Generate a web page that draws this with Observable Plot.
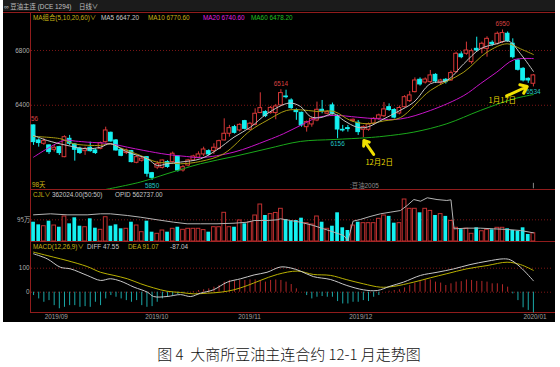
<!DOCTYPE html>
<html><head><meta charset="utf-8">
<script src="https://cdn.jsdelivr.net/npm/d3@7"></script>
<script src="https://cdn.jsdelivr.net/npm/@observablehq/plot@0.6"></script>
<style>
html,body{margin:0;padding:0;background:#fff;}
#wrap{position:relative;width:560px;height:367px;overflow:hidden;font-family:"Liberation Sans","Noto Sans CJK SC",sans-serif;}
#bg{position:absolute;left:3px;top:0;width:552px;height:322px;background:#000;}
#titlebar{position:absolute;left:3px;top:0;width:552px;height:11px;background:#1b1b1b;}
.ln{position:absolute;background:#901c1c;}
.t{position:absolute;white-space:nowrap;font-size:6.4px;line-height:7px;transform:translateY(-50%);}
.plot{position:absolute;left:0;}
#caption{position:absolute;left:0;width:578px;top:346px;text-align:center;font-family:"Noto Sans CJK SC";font-weight:300;font-size:15px;line-height:16px;color:#111;}
</style></head><body><div id="wrap">
<div id="bg"></div><div id="titlebar"></div>
<div class="ln" style="left:3px;top:12px;width:552px;height:1px"></div>
<div class="ln" style="left:30px;top:12px;width:1px;height:301px"></div>
<div class="ln" style="left:30px;top:189px;width:525px;height:1px"></div>
<div class="ln" style="left:30px;top:241px;width:525px;height:1px"></div>
<div class="ln" style="left:30px;top:312px;width:525px;height:1px"></div>
<div id="caption">图 4&nbsp; 大商所豆油主连合约 12-1 月走势图</div>
</div>
<script>
// ---------- data ----------
const openP  = [6253,6143,6119,6107,6075,6094,6021,6155,6114,6082,6065,6090,6070,6082,6131,6199,6143,6075,6051,6065,5980,5995,6021,5904,5945,5943,5985,5985,6026,5924,5960,5997,6017,6041,6065,6065,6082,6143,6192,6240,6216,6284,6221,6257,6343,6350,6343,6343,6399,6464,6435,6362,6345,6240,6260,6289,6367,6338,6399,6321,6221,6233,6284,6272,6221,6221,6265,6301,6320,6386,6365,6340,6386,6430,6496,6586,6566,6569,6622,6562,6586,6581,6642,6771,6776,6715,6812,6812,6812,6856,6849,6861,6922,6849,6727,6666,6593,6557];
const highP  = [6256,6155,6155,6110,6107,6100,6177,6180,6119,6094,6094,6131,6082,6131,6240,6204,6150,6082,6080,6070,6031,6025,6025,5910,5990,6000,5995,6058,6030,5960,6005,6035,6060,6094,6075,6119,6145,6301,6253,6253,6265,6290,6275,6374,6491,6360,6391,6406,6514,6510,6447,6374,6350,6285,6310,6423,6435,6360,6416,6330,6253,6253,6300,6289,6250,6270,6310,6335,6420,6410,6375,6395,6470,6500,6600,6600,6600,6654,6630,6590,6595,6650,6788,6790,6861,6810,6897,6861,6900,6870,6935,6950,6935,6885,6735,6675,6600,6625];
const lowP   = [6107,6094,6107,6041,6058,6034,6017,6107,5992,6041,6034,6058,6041,6075,6124,6131,6065,6024,6040,5980,5973,5985,5875,5851,5930,5935,5940,5980,5912,5912,5950,5990,6010,6026,6030,6041,6075,6140,6167,6190,6205,6220,6215,6250,6340,6310,6335,6294,6390,6447,6370,6290,6240,6204,6240,6280,6338,6330,6330,6156,6204,6204,6275,6180,6163,6210,6255,6290,6310,6355,6300,6330,6380,6420,6490,6540,6555,6560,6560,6545,6555,6575,6635,6740,6765,6700,6790,6776,6751,6830,6840,6850,6860,6739,6650,6570,6560,6534];
const closeP = [6131,6124,6138,6058,6090,6051,6167,6119,6075,6051,6082,6065,6051,6124,6216,6136,6070,6031,6070,5985,6021,6010,5900,5870,5970,5997,5950,6046,5924,5948,5997,6026,6041,6077,6041,6090,6138,6192,6233,6199,6257,6228,6265,6338,6379,6321,6381,6391,6489,6459,6379,6350,6253,6277,6301,6367,6357,6350,6338,6223,6216,6226,6294,6204,6240,6260,6301,6326,6370,6365,6310,6380,6459,6472,6581,6552,6588,6618,6574,6581,6569,6635,6776,6751,6800,6795,6800,6849,6885,6844,6922,6927,6868,6751,6659,6581,6581,6618];
const volume = [845000,730000,670000,890000,700000,626000,1095000,775000,1038000,670000,626000,994000,583000,512000,1064000,670000,730000,556000,556000,845000,700000,408000,890000,408000,337000,482000,408000,556000,626000,512000,556000,556000,556000,500000,408000,626000,626000,1257000,626000,626000,920000,775000,845000,1139000,1620000,1139000,1200000,1250000,1432000,964000,890000,920000,1021000,803000,745000,1095000,845000,556000,670000,1257000,600000,482000,700000,845000,803000,803000,803000,994000,1139000,1100000,803000,803000,1840000,1432000,1432000,1257000,1432000,1340000,1139000,1200000,1100000,900000,600000,520000,560000,337000,600000,450000,512000,512000,600000,600000,556000,482000,450000,600000,307000,362024];
const macdHist = [-14,-28,-42,-35,-56,-69,-63,-56,-56,-63,-60,-63,-42,-56,-28,-14,-21,-28,-35,-42,-35,-56,-63,-60,-42,-28,-21,-14,-10,-4,-1,3,7,10,14,21,28,42,49,46,49,49,51,51,49,42,49,51,49,42,32,14,0,-14,-28,-21,-18,-21,-21,-39,-49,-49,-42,-42,-35,-39,-21,-14,0,4,7,10,18,28,38,44,51,51,42,38,28,35,42,44,51,49,45,45,42,35,35,31,21,-7,-35,-65,-76,-87];
// moving averages, read as [day index, value]
const ma5  = [[0,6180],[2.65,6143],[6.5,6107],[10.4,6082],[13,6094],[14.9,6119],[18.2,6058],[22.1,6009],[24,5960],[25.9,5973],[28.5,5985],[32.4,6009],[35.6,6075],[38.9,6167],[42.1,6240],[45.3,6338],[49.6,6416],[51.8,6391],[53.7,6318],[55.6,6309],[58.3,6338],[60.2,6289],[62.8,6240],[64.7,6240],[68,6301],[70.5,6350],[73.8,6423],[77,6557],[80.2,6581],[83.5,6703],[86.7,6812],[89.9,6849],[92.2,6868],[94.5,6776],[97,6647.2]];
const ma10 = [[0,6172],[5.3,6155],[7.8,6119],[13,6107],[14.9,6119],[16.8,6090],[20.7,6034],[23.9,5985],[25.9,5980],[28.5,5973],[32.4,5990],[36.9,6046],[42.1,6216],[45.3,6289],[49.1,6362],[51.8,6367],[55,6355],[58.3,6355],[61.5,6289],[64.7,6265],[68,6286],[71.2,6310],[77,6508],[83.5,6642],[88,6788],[91.9,6849],[94.5,6812],[97,6770.6]];
const ma20 = [[0,6021],[5.9,6143],[8.2,6138],[10.4,6131],[14.9,6119],[18.2,6094],[21.4,6070],[25.9,6041],[29.7,6026],[32.4,6018],[38.9,6058],[45.3,6143],[48.5,6192],[51.8,6253],[55,6309],[58.3,6326],[62.8,6313],[66.7,6301],[71.2,6300],[77,6362],[83.5,6471],[86.7,6557],[89.9,6642],[93.2,6732],[97,6740.6]];
const ma60 = [[13,5778],[20.7,5839],[25.9,5900],[32.4,5973],[38.9,6026],[45.3,6082],[51.8,6136],[58.3,6150],[64.7,6163],[68,6174],[73.8,6204],[80.2,6265],[86.7,6362],[93.2,6447],[97,6478.2]];
const oiLine = [[0,816000],[3.3,830000],[6.5,816000],[10.4,816000],[13,830000],[14.9,830000],[18.2,807000],[20.8,783000],[24,748000],[27.2,715000],[29.8,693000],[32.4,693000],[35.6,693000],[38.9,701000],[41.5,715000],[42.8,738000],[45.3,738000],[47.3,748000],[47.9,762000],[49.9,738000],[51.8,715000],[54.3,670000],[56.3,624000],[58.3,578000],[60.2,532000],[61,464000],[62,729000],[63.4,752000],[65.3,793000],[67.3,830000],[69.2,852000],[71.2,875000],[72.5,944000],[73.8,1026000],[75.1,1003000],[76.4,1050000],[78.3,1026000],[80.2,1013000],[81,1022000],[81.6,624000],[84.1,633000],[86.7,633000],[89.3,624000],[91.9,615000],[94.5,601000],[97,569000]];
const diffLine = [[0,160],[2.65,139],[5.2,104],[7.2,97],[10.4,70],[13,49],[14.9,56],[16.9,46],[19.5,21],[22.1,0],[23.3,-18],[25.9,-18],[28.5,-10],[30.5,-18],[32.4,-4],[34.9,10],[37.6,42],[40.2,56],[42.8,72],[45.3,83],[47.9,105],[49.9,101],[51.8,88],[54.3,65],[57.6,53],[60.8,28],[64,10],[66.7,7],[69.2,25],[71.8,42],[75.1,70],[78.3,83],[81.5,97],[84.7,115],[88,129],[91.2,139],[92.5,135],[94.5,104],[97,47.55]];
const deaLine = [[0,167],[3.9,146],[6.5,132],[10.4,107],[13,83],[15.6,70],[18.2,56],[20.8,35],[23.3,18],[25.9,4],[28.5,-1],[31.1,-7],[33.7,-4],[36.3,0],[38.9,10],[41.5,28],[44,49],[47.3,74],[51.2,88],[54.3,74],[57.6,70],[60.8,52],[64,35],[67.3,21],[69.8,24],[73.8,42],[77,60],[80.2,77],[84,97],[88,111],[91.9,125],[94.5,115],[97,91.07]];
const priceTicks = [6400, 6800];
const volTicks = [950000], volTickLabels = ["95万"];
const macdTicks = [0, 100];
const dateTickIdx = [4.4, 23.9, 41.9, 63.5, 97.3];
const dateLabels = ["2019/09","2019/10","2019/11","2019/12","2020/01"];
const hiIdx = [48, 91], hiVal = [6514, 6950];
const loIdx = [23, 59, 97], loVal = [5850, 6156, 6534];
const firstHi = [{i: 0, v: 6256}];
const noteText = ["12月2日", "1月17日"], noteIdx = [64.4, 88.3], notePrice = [5982, 6435];
const arrowFrom = [[66.0, 6041], [91.8, 6468]], arrowTo = [[64.1, 6143], [95.8, 6537]];

// ---------- drawing ----------
const RED = "#d83838", CYAN = "#14f0f0", VRED = "#c03030", GRID = "#7c1616";
const LBL = "#b0b0b0", FONT = "Liberation Sans";
const XD = [-0.4, 100.9];
const bars = openP.map((o, i) => ({i, o, h: highP[i], l: lowP[i], c: closeP[i], v: volume[i], m: macdHist[i], up: closeP[i] >= o}));
const ups = bars.filter(d => d.up), downs = bars.filter(d => !d.up);
const wrap = document.getElementById("wrap");
function place(svg, top) { svg.classList.add("plot"); svg.style.top = top + "px"; wrap.appendChild(svg); }
const base = {width: 560, marginLeft: 31, marginRight: 7, style: {background: "transparent", overflow: "visible"}, x: {domain: XD, axis: null}};
const L = {curve: "catmull-rom", strokeWidth: 1, clip: true};

// price panel
place(Plot.plot({...base, height: 190, marginTop: 13, marginBottom: 1,
  y: {domain: [5785, 7070], axis: null},
  marks: [
    Plot.ruleY(priceTicks, {stroke: GRID, strokeDasharray: "1,2"}),
    Plot.text(priceTicks, {y: d => d, text: d => String(d), frameAnchor: "left", textAnchor: "end", dx: -2, fill: LBL, fontSize: 6.4, fontFamily: FONT}),
    Plot.ruleX(bars, {x: "i", y1: "l", y2: "h", stroke: d => d.up ? RED : CYAN}),
    Plot.rect(ups, {x1: d => d.i - 0.36, x2: d => d.i + 0.36, y1: "o", y2: "c", fill: "#000", stroke: RED}),
    Plot.rect(downs, {x1: d => d.i - 0.36, x2: d => d.i + 0.36, y1: "o", y2: "c", fill: CYAN, stroke: CYAN}),
    Plot.line(ma60, {...L, x: d => d[0], y: d => d[1], stroke: "#1aa81a"}),
    Plot.line(ma20, {...L, x: d => d[0], y: d => d[1], stroke: "#c814c8"}),
    Plot.line(ma10, {...L, x: d => d[0], y: d => d[1], stroke: "#a89a10"}),
    Plot.line(ma5, {...L, x: d => d[0], y: d => d[1], stroke: "#c4c4c4"}),
    Plot.text(hiIdx, {x: d => d, y: (d, k) => hiVal[k], text: (d, k) => String(hiVal[k]), dy: -6, fill: "#d84040", fontSize: 6.4, fontFamily: FONT}),
    Plot.text(loIdx, {x: d => d, y: (d, k) => loVal[k], text: (d, k) => String(loVal[k]), dy: 5, fill: "#22c4c4", fontSize: 6.4, fontFamily: FONT}),
    Plot.text(firstHi, {x: "i", y: "v", text: d => String(d.v), textAnchor: "end", dx: 4.5, dy: -6, fill: "#d84040", fontSize: 6.4, fontFamily: FONT, clip: true}),
    Plot.arrow(arrowFrom, {x1: d => d[0], y1: d => d[1], x2: (d, k) => arrowTo[k][0], y2: (d, k) => arrowTo[k][1], stroke: "#f0e000", strokeWidth: 3, headLength: 7, headAngle: 75}),
    Plot.text(noteText, {x: (d, k) => noteIdx[k], y: (d, k) => notePrice[k], text: d => d, textAnchor: "start", fill: "#e8d800", fontSize: 7.5, fontFamily: "Noto Sans CJK SC"}),
    Plot.ruleX([97], {y1: 5790, y2: 5830, stroke: "#888"})
  ]}), 0);

// volume panel
place(Plot.plot({...base, height: 52, marginTop: 0, marginBottom: 0,
  y: {domain: [0, 2278000], axis: null},
  marks: [
    Plot.ruleY(volTicks, {stroke: GRID, strokeDasharray: "1,2"}),
    Plot.text(volTicks, {y: d => d, text: (d, k) => volTickLabels[k], frameAnchor: "left", textAnchor: "end", dx: -1, fill: LBL, fontSize: 6.4, fontFamily: "Noto Sans CJK SC"}),
    Plot.rect(ups, {x1: d => d.i - 0.36, x2: d => d.i + 0.36, y1: 0, y2: "v", fill: "#000", stroke: VRED}),
    Plot.rect(downs, {x1: d => d.i - 0.36, x2: d => d.i + 0.36, y1: 0, y2: "v", fill: CYAN})
  ]}), 189);
// open interest overlay (own scale)
place(Plot.plot({...base, height: 52, marginTop: 0, marginBottom: 0,
  y: {domain: [450000, 1163700], axis: null},
  marks: [Plot.line(oiLine, {x: d => d[0], y: d => d[1], stroke: "#b4b4b4", strokeWidth: 1})]}), 189);

// MACD panel
place(Plot.plot({...base, height: 81, marginTop: 0, marginBottom: 10,
  y: {domain: [-84.6, 211.3], axis: null},
  marks: [
    Plot.ruleY(macdTicks, {stroke: GRID, strokeDasharray: "1,2"}),
    Plot.text(macdTicks, {y: d => d, text: d => String(d), frameAnchor: "left", textAnchor: "end", dx: -2, fill: LBL, fontSize: 6.4, fontFamily: FONT}),
    Plot.ruleX(bars, {x: "i", y1: 0, y2: "m", stroke: d => d.m >= 0 ? "#b42828" : "#1aa8a8"}),
    Plot.line(deaLine, {...L, clip: false, x: d => d[0], y: d => d[1], stroke: "#b8b000"}),
    Plot.line(diffLine, {...L, clip: false, x: d => d[0], y: d => d[1], stroke: "#c8c8c8"}),
    Plot.text(dateLabels, {x: (d, k) => dateTickIdx[k], text: d => d, frameAnchor: "bottom", dy: 6, fill: "#a0a0a0", fontSize: 6.4, fontFamily: FONT})
  ]}), 241);

// header texts
function txt(s, left, cy, color, size) {
  const e = document.createElement("div"); e.className = "t"; e.textContent = s;
  e.style.left = left + "px"; e.style.top = cy + "px"; e.style.color = color;
  if (size) e.style.fontSize = size + "px";
  wrap.appendChild(e);
}
const YEL = "#c8b414", GRY = "#c8c8c8";
txt("∞ 豆油主连 (DCE 1294)", 4, 6, "#c0c0c0");
txt("日线∨", 79, 6, "#c0c0c0");
txt("MA组合(5,10,20,60)∨", 33, 17, YEL);
txt("MA5 6647.20", 101, 17, GRY);
txt("MA10 6770.60", 148, 17, YEL);
txt("MA20 6740.60", 203, 17, "#e020e0");
txt("MA60 6478.20", 251, 17, "#20c020");
txt("98天", 32, 184, YEL);
txt(":豆油2005", 350, 185, "#909090");
txt("CJL∨", 33, 194, YEL);
txt("362024.00(50:50)", 52, 194, GRY);
txt("OPID 562737.00", 115, 194, GRY);
txt("MACD(12,26,9)∨", 33, 246, YEL);
txt("DIFF 47.55", 87, 246, GRY);
txt("DEA 91.07", 128, 246, YEL);
txt("-87.04", 170, 246, GRY);
</script></body></html>
